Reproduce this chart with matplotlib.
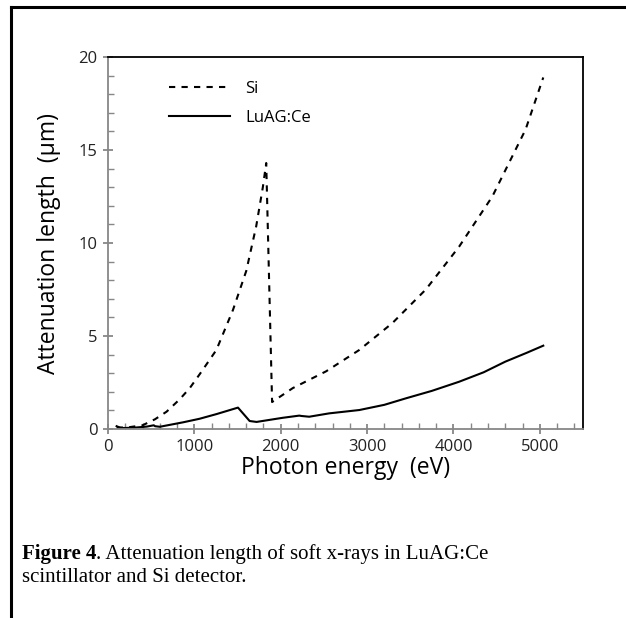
import matplotlib
matplotlib.use("Agg")
import matplotlib.pyplot as plt
from matplotlib.lines import Line2D
from matplotlib.ticker import MultipleLocator

# attenuation length (um) vs photon energy (eV)
si_energy = [100, 250, 400, 543, 678, 831, 947, 1070, 1255, 1447, 1601, 1716,
             1793, 1832, 1900, 2140, 2525, 2910, 3294, 3680, 4065, 4450, 4835, 5040]
si_length = [0.07, 0.1, 0.2, 0.52, 0.93, 1.6, 2.2, 3.0, 4.25, 6.4, 8.5, 10.9,
             13.0, 14.3, 1.45, 2.2, 3.1, 4.25, 5.7, 7.5, 9.8, 12.5, 16.1, 18.9]

luag_energy = [100, 150, 300, 450, 530, 545, 600, 870, 1060, 1255, 1505, 1640,
               1720, 2020, 2215, 2240, 2330, 2560, 2910, 3200, 3450, 3750, 4065,
               4350, 4600, 4850, 5040]
luag_length = [0.15, 0.05, 0.07, 0.13, 0.2, 0.15, 0.12, 0.36, 0.55, 0.8, 1.15, 0.43,
               0.38, 0.6, 0.72, 0.7, 0.66, 0.84, 1.02, 1.3, 1.65, 2.05, 2.54,
               3.05, 3.62, 4.1, 4.48]

x_ticks = [0, 1000, 2000, 3000, 4000, 5000]
y_ticks = [0, 5, 10, 15, 20]

plt.rcParams["font.family"] = ["Open Sans", "DejaVu Sans"]

fig = plt.figure(figsize=(6.26, 6.18), dpi=100)
ax = fig.add_axes([108 / 626, 1 - 429 / 618, 475 / 626, 372 / 618])

ax.plot(si_energy, si_length, color="black", lw=1.5, dashes=(3, 3), label="Si")
ax.plot(luag_energy, luag_length, color="black", lw=1.5, label="LuAG:Ce")

ax.set_xlim(0, 5500)
ax.set_ylim(0, 20)
ax.set_xticks(x_ticks)
ax.set_yticks(y_ticks)
ax.xaxis.set_minor_locator(MultipleLocator(200))
ax.yaxis.set_minor_locator(MultipleLocator(1))

grey = "#878787"
for side in ["left", "bottom"]:
    ax.spines[side].set_color(grey)
    ax.spines[side].set_linewidth(1.3)
for side in ["top", "right"]:
    ax.spines[side].set_color("black")
    ax.spines[side].set_linewidth(1.3)

ax.tick_params(which="major", direction="inout", length=7, width=1.3, color=grey,
               labelsize=12, labelcolor="#222222", pad=4)
ax.tick_params(which="minor", direction="in", length=4, width=1.0, color=grey)

ax.set_xlabel("Photon energy  (eV)", fontsize=16.5, va="center")
ax.set_ylabel("Attenuation length  (\u03bcm)", fontsize=16.5, va="center")
ax.xaxis.set_label_coords(0.5, -39 / 372)
ax.yaxis.set_label_coords(-59 / 475, 0.5)

ax.legend(loc="upper left", bbox_to_anchor=(0.128, 0.935), frameon=False,
          fontsize=12, handlelength=3.7, handletextpad=0.9, labelspacing=0.75,
          borderpad=0, borderaxespad=0)

# page border of the figure box
fig.add_artist(Line2D([11 / 626, 1.0], [1 - 7 / 618, 1 - 7 / 618],
                      color="black", lw=2.2, transform=fig.transFigure))
fig.add_artist(Line2D([11 / 626, 11 / 626], [0.0, 1 - 7 / 618],
                      color="black", lw=2.2, transform=fig.transFigure))

serif = ["Liberation Serif", "DejaVu Serif"]
cap_size = 15
bold = fig.text(22 / 626, 1 - 554 / 618, "Figure 4", family=serif, fontsize=cap_size,
                fontweight="bold", va="center")
fig.canvas.draw()
bold_end = bold.get_window_extent().x1 / fig.bbox.width
fig.text(bold_end, 1 - 554 / 618, ". Attenuation length of soft x-rays in LuAG:Ce",
         family=serif, fontsize=cap_size, va="center")
fig.text(22 / 626, 1 - 578 / 618, "scintillator and Si detector.", family=serif,
         fontsize=cap_size, va="center")

fig.savefig("out.png", dpi=100)
